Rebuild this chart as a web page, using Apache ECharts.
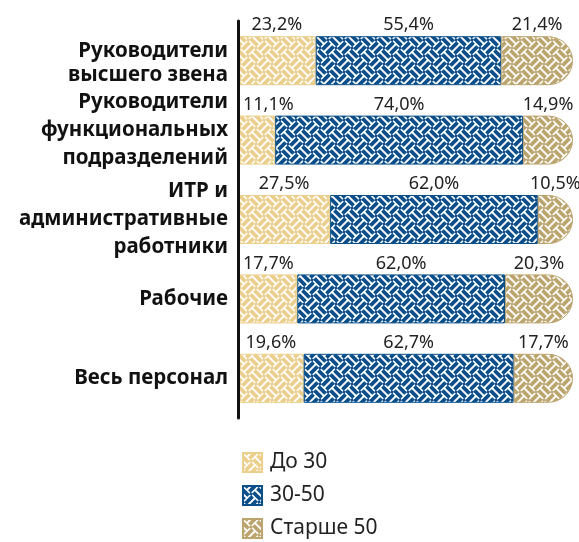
<!DOCTYPE html>
<html>
<head>
<meta charset="utf-8">
<style>
  html, body { margin: 0; padding: 0; background: #fff; }
  #chart { width: 579px; height: 542px; }
</style>
<script src="https://cdn.jsdelivr.net/npm/echarts@6/dist/echarts.min.js"></script>
</head>
<body>
<div id="chart"></div>
<script>
// Age structure of staff by category, % of headcount
const categories = [
  'Руководители\nвысшего звена',
  'Руководители\nфункциональных\nподразделений',
  'ИТР и\nадминистративные\nработники',
  'Рабочие',
  'Весь персонал'
];
const seriesNames = ['До 30', '30-50', 'Старше 50'];
const under30 = [23.2, 11.1, 27.5, 17.7, 19.6];
const from30to50 = [55.4, 74.0, 62.0, 62.0, 62.7];
const over50 = [21.4, 14.9, 10.5, 20.3, 17.7];

const colors = ['#ebcf8b', '#0b4f8a', '#bca46f'];

// Diagonal basket-weave tile: pairs of strips alternating direction cell by cell,
// with a small diamond where four cells meet.
function weaveTile(color) {
  const T = 16, SS = 4;
  const cv = document.createElement('canvas');
  cv.width = T; cv.height = T;
  const ctx = cv.getContext('2d');
  const img = ctx.createImageData(T, T);
  const r = parseInt(color.slice(1, 3), 16);
  const g = parseInt(color.slice(3, 5), 16);
  const b = parseInt(color.slice(5, 7), 16);
  const c = T;
  const mod = (a, m) => ((a % m) + m) % m;
  function inside(x, y) {
    const u = x + y, v = x - y;
    const i = Math.floor(u / c), j = Math.floor(v / c);
    const a = mod(u, c), bb = mod(v, c);
    const da = Math.min(a, c - a), db = Math.min(bb, c - bb);
    if (da + db < 2.4) return true;
    let across, along;
    if (mod(i + j, 2) === 0) { across = a; along = bb; } else { across = bb; along = a; }
    if (along < 0.8 || along > c - 0.8) return false;
    return (across > 1.3 && across < 6.7) || (across > 9.3 && across < 14.7);
  }
  for (let y = 0; y < T; y++) {
    for (let x = 0; x < T; x++) {
      let hit = 0;
      for (let sy = 0; sy < SS; sy++) for (let sx = 0; sx < SS; sx++) {
        if (inside(x + (sx + 0.5) / SS, y + (sy + 0.5) / SS)) hit++;
      }
      const f = hit / (SS * SS);
      const k = (y * T + x) * 4;
      img.data[k] = Math.round(255 + (r - 255) * f);
      img.data[k + 1] = Math.round(255 + (g - 255) * f);
      img.data[k + 2] = Math.round(255 + (b - 255) * f);
      img.data[k + 3] = 255;
    }
  }
  ctx.putImageData(img, 0, 0);
  return { image: cv, repeat: 'repeat' };
}

const fmt = v => v.toFixed(1).replace('.', ',') + '%';
const labelFont = '18px "Noto Sans"';
const measureCtx = document.createElement('canvas').getContext('2d');
measureCtx.font = labelFont;

// Category captions; the {s|} / {t|} lines are spacers that nudge a block down or up
const captionText = [
  '{s|}\n' + categories[0],
  categories[1] + '\n{t|}',
  categories[2],
  categories[3],
  categories[4]
];
const captionLineHeight = [24, 28, 28, 24, 24];

const chart = echarts.init(document.getElementById('chart'), null, { renderer: 'canvas' });

const valueSets = [under30, from30to50, over50];

function buildSeries(offsets) {
  return valueSets.map((vals, si) => ({
    name: seriesNames[si],
    type: 'bar',
    stack: 'total',
    barWidth: 49,
    data: vals.map((v, ci) => ({
      value: v,
      label: { offset: [offsets ? offsets[si][ci] : 0, 0] }
    })),
    itemStyle: {
      color: weaveTile(colors[si]),
      borderColor: colors[si],
      borderWidth: 1,
      borderRadius: si === 2 ? [0, 24.5, 24.5, 0] : 0
    },
    label: {
      show: true,
      position: 'top',
      distance: 2,
      formatter: p => fmt(p.value),
      fontFamily: 'Noto Sans',
      fontSize: 18,
      color: '#222'
    },
    emphasis: { disabled: true }
  }));
}

const option = {
  animation: false,
  grid: { left: 238, right: 6, top: 21, bottom: 124, containLabel: false },
  xAxis: { type: 'value', min: 0, max: 100, show: false },
  yAxis: {
    type: 'category',
    inverse: true,
    data: categories.map((c, i) => ({
      value: c,
      textStyle: { lineHeight: captionLineHeight[i] }
    })),
    z: 5,
    axisLine: { show: true, lineStyle: { color: '#111', width: 3 } },
    axisTick: { show: false },
    splitLine: { show: false },
    axisLabel: {
      margin: 10,
      align: 'right',
      fontFamily: 'Noto Sans',
      fontWeight: 'bold',
      fontSize: 20.5,
      color: '#111',
      formatter: (value, index) => captionText[index],
      rich: {
        s: { lineHeight: 4, fontSize: 4 },
        t: { lineHeight: 20, fontSize: 4 }
      }
    }
  },
  legend: {
    orient: 'vertical',
    left: 242,
    top: 452,
    padding: 0,
    itemWidth: 19,
    itemHeight: 19,
    itemGap: 12,
    icon: 'rect',
    selectedMode: false,
    textStyle: { fontFamily: 'Noto Sans', fontSize: 21, color: '#222', padding: [0, 0, 0, 3] },
    data: seriesNames
  },
  series: buildSeries(null)
};

chart.setOption(option);

// Keep a label from running into the axis when its segment is narrow
const axisX = chart.convertToPixel({ xAxisIndex: 0 }, 0);
const offsets = valueSets.map(() => []);
for (let ci = 0; ci < categories.length; ci++) {
  let acc = 0;
  for (let si = 0; si < valueSets.length; si++) {
    const v = valueSets[si][ci];
    const x0 = chart.convertToPixel({ xAxisIndex: 0 }, acc);
    const x1 = chart.convertToPixel({ xAxisIndex: 0 }, acc + v);
    acc += v;
    const w = measureCtx.measureText(fmt(v)).width;
    const centre = (x0 + x1) / 2;
    const minCentre = axisX + 5 + w / 2;
    offsets[si][ci] = centre < minCentre ? minCentre - centre : 0;
  }
}
chart.setOption({ series: buildSeries(offsets) });
</script>
</body>
</html>
